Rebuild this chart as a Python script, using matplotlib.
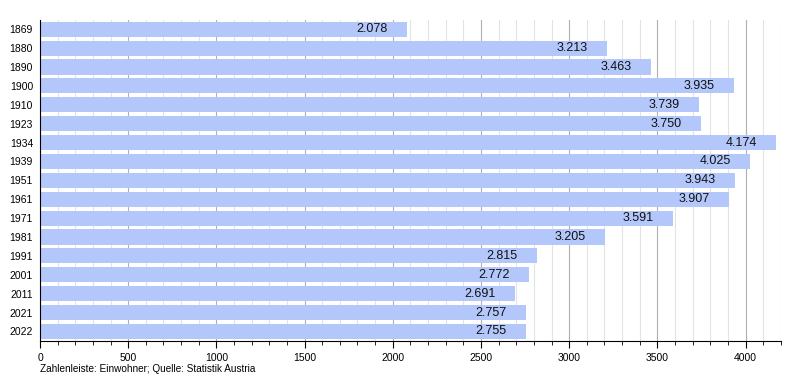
import matplotlib
matplotlib.use("Agg")
import matplotlib.pyplot as plt
from matplotlib.ticker import MultipleLocator

plt.rcParams['font.family'] = ['Liberation Sans', 'DejaVu Sans']

years = ["1869", "1880", "1890", "1900", "1910", "1923", "1934", "1939", "1951",
         "1961", "1971", "1981", "1991", "2001", "2011", "2021", "2022"]
population = [2078, 3213, 3463, 3935, 3739, 3750, 4174, 4025, 3943,
              3907, 3591, 3205, 2815, 2772, 2691, 2757, 2755]
value_labels = ["2.078", "3.213", "3.463", "3.935", "3.739", "3.750", "4.174", "4.025", "3.943",
                "3.907", "3.591", "3.205", "2.815", "2.772", "2.691", "2.757", "2.755"]

fig = plt.figure(figsize=(8, 3.8), dpi=100)
ax = fig.add_axes([0.05, 0.103, 0.926, 0.845])

ypos = list(range(len(years)))
ax.barh(ypos, population, height=0.8, color="#b3c7fb", zorder=2)
for y, v, lab in zip(ypos, population, value_labels):
    ax.annotate(lab, (v, y), xytext=(-14, 0), textcoords="offset points",
                ha="right", va="center", fontsize=9, color="#111111", zorder=3)

ax.set_ylim(len(years) - 0.5, -0.5)
ax.set_yticks(ypos)
ax.set_yticklabels(years, fontsize=7.5)
ax.tick_params(axis="y", length=0, pad=5)

ax.set_xlim(0, 4200)
ax.xaxis.set_major_locator(MultipleLocator(500))
ax.xaxis.set_minor_locator(MultipleLocator(100))
ax.tick_params(axis="x", which="major", length=5, labelsize=7.5, direction="out", pad=4)
ax.tick_params(axis="x", which="minor", length=3, direction="out")
ax.grid(axis="x", which="major", color="#b0b0b0", linewidth=0.8, zorder=0)
ax.grid(axis="x", which="minor", color="#e3e3e3", linewidth=0.8, zorder=0)
ax.set_axisbelow(True)

for s in ["top", "right"]:
    ax.spines[s].set_visible(False)
ax.spines["left"].set_color("black")
ax.spines["bottom"].set_color("black")

fig.text(0.05, 0.03, "Zahlenleiste: Einwohner; Quelle: Statistik Austria", fontsize=7.2, ha="left", va="center")

fig.savefig("out.png", dpi=100)
